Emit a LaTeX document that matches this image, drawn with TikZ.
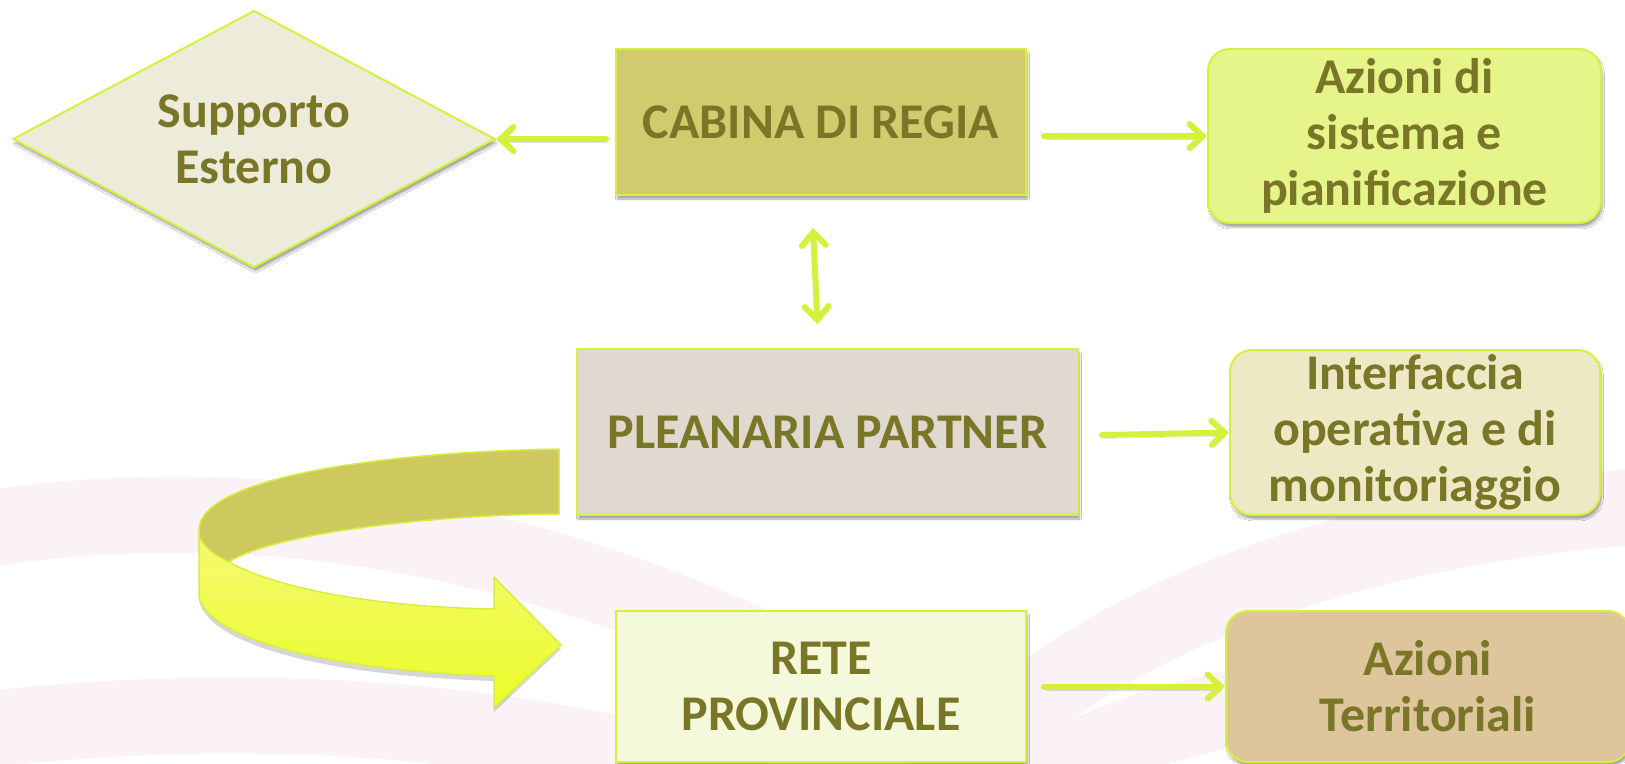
\documentclass[tikz,border=0pt]{standalone}
\usepackage{fontspec}
\setmainfont{Carlito}
\usetikzlibrary{shapes.geometric,arrows.meta,calc,shadows.blur}
\definecolor{txt}{RGB}{122,118,40}
\definecolor{edge}{RGB}{214,240,62}
\definecolor{supfill}{RGB}{237,236,218}
\definecolor{cabfill}{RGB}{210,203,110}
\definecolor{azfill}{RGB}{229,245,138}
\definecolor{plefill}{RGB}{224,217,208}
\definecolor{intfill}{RGB}{237,233,197}
\definecolor{retefill}{RGB}{243,249,218}
\definecolor{atfill}{RGB}{222,197,156}
\definecolor{olive}{RGB}{206,201,95}
\definecolor{yeltop}{RGB}{245,249,112}
\definecolor{yelbot}{RGB}{234,252,40}
\definecolor{pinkbg}{RGB}{250,242,246}
\begin{document}
\begin{tikzpicture}[x=1pt,y=-1pt,
  box/.style={draw=edge, line width=2pt, font=\bfseries\fontsize{50}{56}\selectfont,
    text=txt, align=center, inner sep=0pt,
    blur shadow={shadow xshift=1.5pt, shadow yshift=-4pt, shadow opacity=35, shadow blur steps=6}},
  rbox/.style={box, rounded corners=22pt},
  conn/.style={draw=edge, line width=6pt, line cap=round,
    -{Straight Barb[length=13pt,width=24pt,line cap=round]},
    preaction={draw=black!70, opacity=0.18, transform canvas={xshift=1.5pt,yshift=-3.5pt}}},
  band/.style={draw=pinkbg, line width=76pt},
  ribbon/.style={draw=edge, line width=1.5pt, line join=round}
]
\useasboundingbox (0,0) rectangle (1625,763);
\fill[white] (0,0) rectangle (1625,763);
% background bands
\draw[band] (-20,530) .. controls (200,495) and (520,505) .. (900,720);
\draw[band] (-20,730) .. controls (200,705) and (480,705) .. (760,790);
\draw[band] (930,800) .. controls (1060,640) and (1300,530) .. (1660,505);
\draw[band] (1000,810) .. controls (1080,745) and (1160,720) .. (1300,695);

% nodes
\node[box, diamond, aspect=1.875, fill=supfill, minimum width=482pt, minimum height=257pt] (sup) at (254,139) {Supporto\\Esterno};
\node[box, fill=cabfill, minimum width=410pt, minimum height=146pt] (cab) at (821,122) {CABINA DI REGIA};
\node[rbox, fill=azfill, minimum width=393pt, minimum height=174pt] (az) at (1404.5,136) {Azioni di\\sistema e\\pianificazione};
\node[box, fill=plefill, minimum width=501pt, minimum height=166pt] (ple) at (827.5,432) {PLEANARIA PARTNER};
\node[rbox, fill=intfill, minimum width=370pt, minimum height=165pt] (int) at (1415,432.5) {Interfaccia\\operativa e di\\monitoriaggio};
\node[box, fill=retefill, minimum width=410pt, minimum height=151pt] (rete) at (821,686.5) {RETE\\PROVINCIALE};
\node[rbox, fill=atfill, minimum width=404pt, minimum height=151pt] (at) at (1428,686.5) {Azioni\\Territoriali};

% connectors
\draw[conn] ($(cab.west |- sup.east)+(-9,0)$) -- (sup.east);
\draw[conn] ($(cab.east |- az.west)+(17,0)$) -- (az.west);
\draw[conn, {Straight Barb[length=13pt,width=24pt,line cap=round]}-{Straight Barb[length=13pt,width=24pt,line cap=round]}] ($(cab.south)+(-8,32)$) -- ($(ple.north)+(-10,-24)$);
\draw[conn] ($(ple.east)+(23,3)$) -- (int.west);
\draw[conn] ($(rete.east)+(17,0)$) -- (at.west);

% curved ribbon arrow from PLEANARIA to RETE
\coordinate (r1) at ($(ple.west)+(-17,17)$);
\coordinate (r2) at ($(ple.west)+(-17,82)$);
\fill[black, opacity=0.16] (199,545) -- (199,601) .. controls (210,646) and (330,676) .. (494,681) -- (494,712) -- (561,649) -- (494,612) .. controls (380,612) and (280,596) .. (229,568) -- cycle;
\path[ribbon, fill=olive] (r1) .. controls (380,452) and (199,478) .. (199,530) -- (199,537)
  .. controls (205,548) and (215,556) .. (229,562)
  .. controls (270,535) and (420,515) .. (r2) -- cycle;
\path[ribbon, top color=yeltop, bottom color=yelbot] (199,537) .. controls (205,548) and (215,556) .. (229,562)
  .. controls (280,590) and (380,607) .. (494,609) -- (494,577) -- (561,645) -- (494,708) -- (494,676)
  .. controls (330,670) and (210,640) .. (199,597) -- cycle;
\end{tikzpicture}
\end{document}
